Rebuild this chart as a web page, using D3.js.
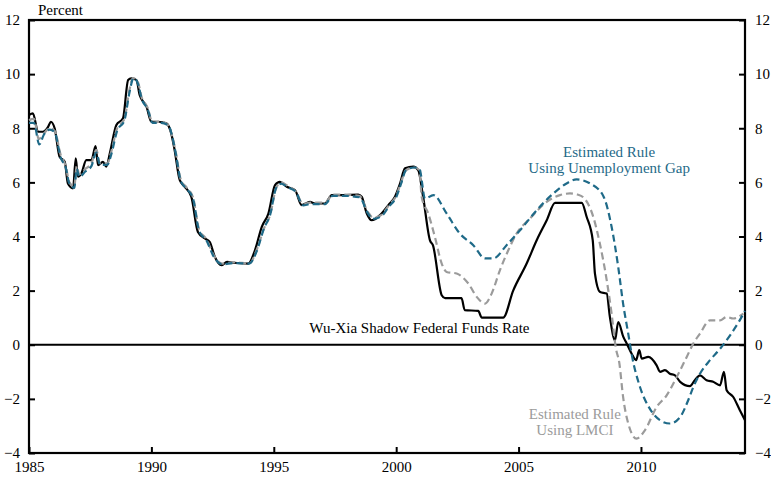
<!DOCTYPE html>
<html>
<head>
<meta charset="utf-8">
<script src="https://cdn.jsdelivr.net/npm/d3@7"></script>
<style>
  body { margin: 0; background: #fff; }
  svg text { font-family: "Liberation Serif", "DejaVu Serif", serif; }
</style>
</head>
<body>
<svg id="mount" width="771" height="477"></svg>
<script>
var colorShadow = "#000000";
var colorLmci = "#9b9b9b";
var colorUnemp = "#1f6a88";

// Wu-Xia shadow federal funds rate (percent)
var shadowYears = [1985.0, 1985.16, 1985.37, 1985.57, 1985.78, 1985.89, 1986.05, 1986.25, 1986.46, 1986.59,
  1986.8, 1986.91, 1987.0, 1987.14, 1987.34, 1987.55, 1987.72, 1987.82, 1988.02, 1988.16,
  1988.3, 1988.57, 1988.84, 1989.05, 1989.18, 1989.39, 1989.52, 1989.8, 1990.0, 1990.27,
  1990.61, 1990.81, 1990.95, 1991.16, 1991.36, 1991.63, 1991.9, 1992.18, 1992.38, 1992.59,
  1992.86, 1993.09, 1993.35, 1993.96, 1994.23, 1994.51, 1994.78, 1995.05, 1995.25, 1995.53,
  1995.87, 1996.14, 1996.48, 1996.68, 1997.09, 1997.37, 1997.84, 1998.45, 1998.59, 1998.8,
  1999.0, 1999.34, 1999.68, 1999.95, 2000.16, 2000.36, 2000.7, 2000.9, 2001.1, 2001.38,
  2001.5, 2001.86, 2002.0, 2002.67, 2002.8, 2003.35, 2003.5, 2004.37, 2004.78, 2005.33,
  2005.74, 2006.15, 2006.49, 2007.58, 2007.78, 2008.03, 2008.12, 2008.33, 2008.6, 2008.73,
  2008.94, 2009.07, 2009.28, 2009.42, 2009.62, 2009.8, 2009.93, 2010.03, 2010.3, 2010.64,
  2010.78, 2010.98, 2011.18, 2011.39, 2011.6, 2012.0, 2012.2, 2012.41, 2012.68, 2012.95,
  2013.23, 2013.39, 2013.5, 2013.77, 2014.04, 2014.25];
var shadowRate = [8.49, 8.55, 7.87, 7.87, 8.05, 8.24, 7.99, 6.95, 6.76, 5.96,
  5.78, 6.89, 6.21, 6.33, 6.82, 6.82, 7.34, 6.64, 6.76, 6.58,
  7.07, 8.12, 8.37, 9.78, 9.84, 9.78, 9.23, 8.8, 8.24, 8.24,
  8.18, 7.81, 7.19, 6.08, 5.84, 5.47, 4.17, 3.93, 3.8, 3.25,
  2.94, 3.06, 3.03, 3.0, 3.49, 4.36, 4.85, 5.9, 6.02, 5.84,
  5.71, 5.16, 5.28, 5.22, 5.22, 5.53, 5.53, 5.55, 5.47, 4.85,
  4.6, 4.79, 5.16, 5.47, 5.96, 6.52, 6.58, 6.45, 5.47, 3.86,
  3.68, 1.83, 1.72, 1.72, 1.28, 1.25, 1.0, 1.0, 2.0, 3.0,
  3.86, 4.6, 5.24, 5.24, 4.73, 3.86, 2.63, 1.95, 1.89, 1.03,
  0.17, 0.84, 0.29, 0.04, -0.33, -0.57, -0.2, -0.51, -0.45, -0.76,
  -1.0, -0.94, -1.07, -1.13, -1.37, -1.53, -1.31, -1.13, -1.31, -1.37,
  -1.5, -1.0, -1.68, -1.93, -2.42, -2.79];

// Estimated rule using LMCI (percent)
var lmciYears = [1985.0, 1985.2, 1985.4, 1985.6, 1985.85, 1986.05, 1986.3, 1986.5, 1986.65, 1986.85,
  1986.95, 1987.05, 1987.3, 1987.55, 1987.75, 1987.9, 1988.2, 1988.35, 1988.6, 1988.9,
  1989.1, 1989.25, 1989.45, 1989.6, 1989.85, 1990.05, 1990.4, 1990.7, 1990.85, 1991.0,
  1991.2, 1991.45, 1991.7, 1991.95, 1992.25, 1992.55, 1992.9, 1993.4, 1994.0, 1994.3,
  1994.6, 1994.85, 1995.1, 1995.3, 1995.6, 1995.9, 1996.2, 1996.5, 1996.8, 1997.1,
  1997.4, 1997.9, 1998.5, 1998.85, 1999.05, 1999.4, 1999.7, 2000.0, 2000.2, 2000.4,
  2000.75, 2000.95, 2001.04, 2001.31, 2001.58, 2001.86, 2002.06, 2002.47, 2002.95, 2003.29,
  2003.63, 2003.9, 2004.24, 2004.58, 2004.92, 2005.47, 2006.15, 2006.69, 2007.1, 2007.4,
  2007.64, 2008.05, 2008.32, 2008.6, 2008.8, 2008.97, 2009.12, 2009.27, 2009.48, 2009.82,
  2010.16, 2010.64, 2011.05, 2011.46, 2011.87, 2012.14, 2012.41, 2012.82, 2013.23, 2013.5,
  2013.77, 2014.18];
var lmciRate = [8.3, 8.35, 7.6, 7.8, 8.0, 7.9, 7.0, 6.6, 6.0, 5.85,
  6.6, 6.3, 6.5, 6.7, 7.2, 6.7, 6.7, 7.1, 8.0, 8.35,
  9.4, 9.85, 9.7, 9.15, 8.75, 8.2, 8.25, 8.1, 7.7, 7.1,
  6.1, 5.8, 5.45, 4.25, 3.9, 3.3, 3.0, 3.05, 3.0, 3.5,
  4.3, 4.8, 5.8, 6.0, 5.85, 5.65, 5.2, 5.25, 5.25, 5.25,
  5.55, 5.55, 5.5, 4.9, 4.7, 4.8, 5.15, 5.5, 6.0, 6.45,
  6.55, 6.45, 5.47, 4.85, 3.99, 3.0, 2.69, 2.63, 2.26, 1.77,
  1.52, 1.89, 2.76, 3.49, 4.11, 4.67, 5.28, 5.53, 5.59, 5.55,
  5.45, 4.73, 3.74, 2.39, 1.15, -0.1, -0.7, -1.93, -2.91, -3.47,
  -3.16, -2.3, -1.87, -1.19, -0.45, 0.05, 0.41, 0.9, 0.9, 1.03,
  0.97, 1.15];

// Estimated rule using unemployment gap (percent)
var unempYears = [1985.0, 1985.2, 1985.42, 1985.6, 1985.85, 1986.05, 1986.3, 1986.5, 1986.65, 1986.85,
  1986.95, 1987.05, 1987.3, 1987.55, 1987.75, 1987.9, 1988.2, 1988.35, 1988.6, 1988.9,
  1989.1, 1989.27, 1989.45, 1989.6, 1989.85, 1990.05, 1990.4, 1990.7, 1990.85, 1991.0,
  1991.2, 1991.45, 1991.7, 1991.95, 1992.25, 1992.55, 1992.9, 1993.4, 1994.0, 1994.3,
  1994.6, 1994.85, 1995.1, 1995.3, 1995.6, 1995.9, 1996.2, 1996.5, 1996.8, 1997.1,
  1997.4, 1997.9, 1998.5, 1998.85, 1999.05, 1999.4, 1999.7, 2000.0, 2000.2, 2000.4,
  2000.75, 2000.95, 2001.18, 2001.52, 2002.06, 2002.6, 2003.15, 2003.63, 2003.97, 2004.51,
  2005.06, 2005.74, 2006.42, 2006.96, 2007.37, 2007.92, 2008.46, 2008.8, 2009.07, 2009.27,
  2009.48, 2009.62, 2009.96, 2010.36, 2010.78, 2011.18, 2011.6, 2011.93, 2012.14, 2012.41,
  2012.82, 2013.23, 2013.64, 2014.0, 2014.25];
var unempRate = [8.2, 8.2, 7.4, 7.75, 7.95, 7.85, 6.9, 6.55, 5.95, 5.8,
  6.5, 6.2, 6.4, 6.6, 7.1, 6.65, 6.65, 7.0, 7.9, 8.3,
  9.3, 9.85, 9.65, 9.1, 8.7, 8.2, 8.2, 8.1, 7.7, 7.05,
  6.05, 5.75, 5.4, 4.2, 3.85, 3.25, 2.97, 3.02, 3.0, 3.45,
  4.3, 4.8, 5.8, 5.95, 5.8, 5.65, 5.15, 5.2, 5.2, 5.2,
  5.5, 5.5, 5.45, 4.85, 4.65, 4.75, 5.1, 5.45, 5.95, 6.45,
  6.55, 6.5, 5.4, 5.53, 4.85, 4.11, 3.68, 3.19, 3.19, 3.68,
  4.23, 4.97, 5.59, 5.96, 6.11, 5.96, 5.5, 4.36, 2.88, 1.52,
  0.41, -0.35, -1.56, -2.36, -2.79, -2.91, -2.67, -2.05, -1.56, -1.07,
  -0.57, -0.15, 0.35, 0.85, 1.25];

var yTicks = [-4, -2, 0, 2, 4, 6, 8, 10, 12];
var xTicks = [1985, 1990, 1995, 2000, 2005, 2010];

function toPoints(years, values) {
  return years.map(function(yr, i) {
    return { year: yr, value: values[i] };
  });
}

var svg = d3.select("#mount");
var margin = { top: 20, right: 26, bottom: 24, left: 29 };
var width = 771 - margin.left - margin.right;
var height = 477 - margin.top - margin.bottom;
var g = svg
  .append("g")
  .attr("transform", "translate(" + margin.left + "," + margin.top + ")");

var xScale = d3.scaleLinear().domain([1985, 2014.25]).range([0, width]);
var yScale = d3.scaleLinear().domain([-4, 12]).range([height, 0]);

var line = d3
  .line()
  .curve(d3.curveMonotoneX)
  .x(function(d) { return xScale(d.year); })
  .y(function(d) { return yScale(d.value); });

// Axes, ticks inward
function styleAxis(sel) {
  sel.select(".domain").remove();
  sel.selectAll("line").attr("stroke", "#000").attr("stroke-width", 2);
  sel.selectAll("text")
    .attr("fill", "#000")
    .style("font-size", "15px");
}

g.append("g")
  .call(d3.axisLeft(yScale).tickValues(yTicks).tickSize(-6).tickPadding(9).tickFormat(d3.format("d")))
  .call(styleAxis);

g.append("g")
  .attr("transform", "translate(" + width + ",0)")
  .call(d3.axisRight(yScale).tickValues(yTicks).tickSize(-6).tickPadding(10).tickFormat(d3.format("d")))
  .call(styleAxis);

g.append("g")
  .attr("transform", "translate(0," + height + ")")
  .call(d3.axisBottom(xScale).tickValues(xTicks).tickSize(-6).tickPadding(8).tickFormat(d3.format("d")))
  .call(styleAxis);

// Zero line
g.append("line")
  .attr("x1", 0)
  .attr("x2", width)
  .attr("y1", yScale(0))
  .attr("y2", yScale(0))
  .attr("stroke", "#000")
  .attr("stroke-width", 2);

// Frame
g.append("rect")
  .attr("width", width)
  .attr("height", height)
  .attr("fill", "none")
  .attr("stroke", "#000")
  .attr("stroke-width", 2.2);

// Series
g.append("path")
  .datum(toPoints(shadowYears, shadowRate))
  .attr("fill", "none")
  .attr("stroke", colorShadow)
  .attr("stroke-width", 2.2)
  .attr("stroke-linejoin", "round")
  .attr("d", line);

g.append("path")
  .datum(toPoints(lmciYears, lmciRate))
  .attr("fill", "none")
  .attr("stroke", colorLmci)
  .attr("stroke-width", 2.2)
  .attr("stroke-dasharray", "7,4")
  .attr("d", line);

g.append("path")
  .datum(toPoints(unempYears, unempRate))
  .attr("fill", "none")
  .attr("stroke", colorUnemp)
  .attr("stroke-width", 2.2)
  .attr("stroke-dasharray", "7,4")
  .attr("d", line);

// Labels
svg.append("text")
  .attr("x", 38)
  .attr("y", 15)
  .style("font-size", "15px")
  .text("Percent");

function label(lines, x, y, color, step) {
  var t = g.append("text")
    .attr("text-anchor", "middle")
    .attr("fill", color)
    .style("font-size", "15px");
  lines.forEach(function(s, i) {
    t.append("tspan").attr("x", x).attr("y", y + i * step).text(s);
  });
}

label(["Estimated Rule", "Using Unemployment Gap"], xScale(2008.7), yScale(6.95), colorUnemp, 16);
label(["Wu-Xia Shadow Federal Funds Rate"], xScale(2000.95), yScale(0.45), "#000", 16);
label(["Estimated Rule", "Using LMCI"], xScale(2007.3), yScale(-2.75), colorLmci, 15.5);
</script>
</body>
</html>
